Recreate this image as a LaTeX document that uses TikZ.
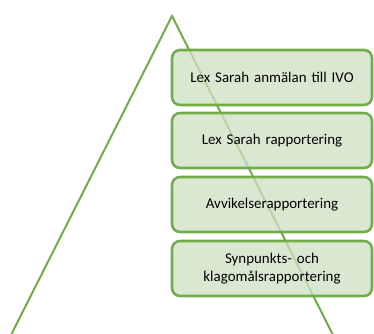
\documentclass[tikz,border=0pt]{standalone}
\usepackage{fontspec}
\setmainfont{Carlito}
\definecolor{tri}{HTML}{70AD47}
\definecolor{boxfill}{HTML}{CDE0C3}
\begin{document}
\begin{tikzpicture}[x=0.75pt,y=0.75pt,
  lvl/.style={draw=tri, line width=1.9pt, fill=boxfill, fill opacity=0.75, text opacity=1,
    rounded corners=6pt, minimum width=200*0.75pt, minimum height=55*0.75pt,
    align=center, font=\fontsize{11.2}{13}\selectfont, inner sep=0pt, text width=190*0.75pt}]
\useasboundingbox (0,0) rectangle (374,334);
\coordinate (apex) at (172,318);
\coordinate (bl) at (11,-1);
\coordinate (br) at (333,-1);
\draw[tri, line width=1.5pt] (bl) -- (apex) -- (br);
\node[lvl] (l1) at (272,256.5) {Lex Sarah anmälan till IVO};
\node[lvl] (l2) at (272,193.5) {Lex Sarah rapportering};
\node[lvl] (l3) at (272,129.5) {Avvikelserapportering};
\node[lvl] (l4) at (272,65.5) {Synpunkts- och\\klagomålsrapportering};
\end{tikzpicture}
\end{document}
